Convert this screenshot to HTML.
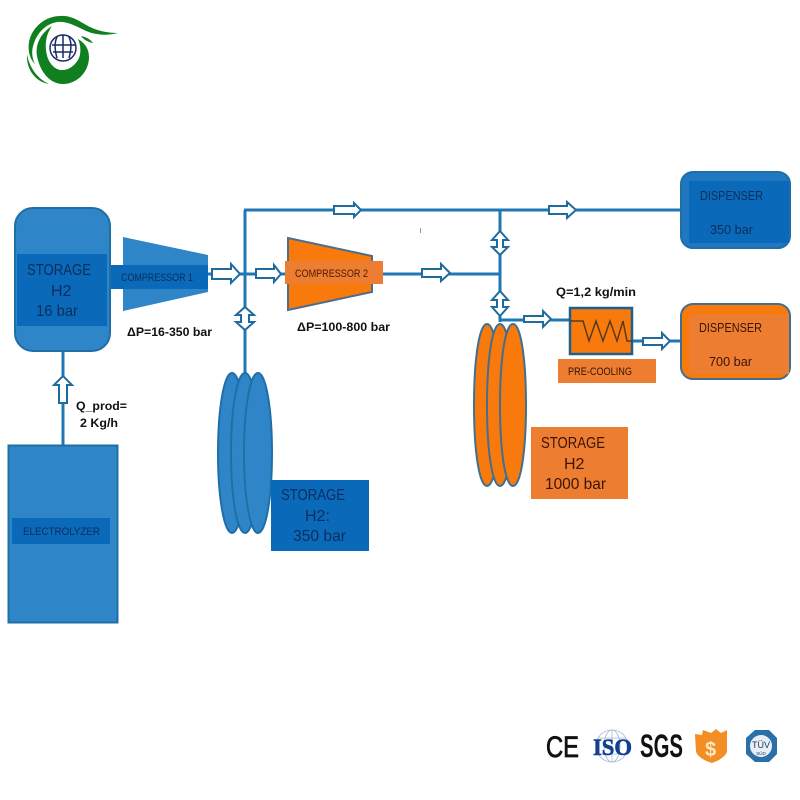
<!DOCTYPE html>
<html>
<head>
<meta charset="utf-8">
<style>
html,body{margin:0;padding:0;background:#fff}
svg{display:block}
text{font-family:"Liberation Sans",sans-serif}
</style>
</head>
<body>
<svg width="800" height="800" viewBox="0 0 800 800" xmlns="http://www.w3.org/2000/svg">
<rect width="800" height="800" fill="#fff"/>

<!-- Logo -->
<g fill="#0f7f1f">
  <path d="M118 33C106 36 94 35 84 30C74 25 66 21 57 22C46 24 38 32 34 43C31 51 32 58 35 64C29 58 27 48 30 38C35 24 48 16 60 16C72 15 80 22 90 27C98 31 108 33 118 33Z"/>
  <path d="M52 26C41 33 35 44 37 56C40 72 50 84 63 84C77 84 89 72 89 57C89 49 85 43 78 39C81 46 81 53 79 58C75 66 68 71 60 70C52 68 47 60 46 50C45 41 47 33 52 26Z"/>
  <path d="M27 54C29 66 36 78 49 84C36 82 26 70 27 54Z"/>
  <path d="M81 36C86 37 90 39 93 43C88 42 84 40 81 36Z"/>
</g>
<circle cx="63" cy="48" r="13" fill="#fff" stroke="#1a2a6c" stroke-width="1.5"/>
<path d="M52 45H75M53 52H73M63 35V58M57 37C54 43 55 51 57 58M69 37C72 43 71 51 69 58" fill="none" stroke="#1a2a6c" stroke-width="1.5"/>

<!-- Connectors -->
<g fill="none" stroke="#1f78b4" stroke-width="3">
  <path d="M63 352V445"/>
  <path d="M208 274H245"/>
  <path d="M245 210V375"/>
  <path d="M244 210H680"/>
  <path d="M245 274H287"/>
  <path d="M383 274H500"/>
  <path d="M500 210V322"/>
  <path d="M500 320H569"/>
  <path d="M632 341H680"/>
</g>

<!-- Storage 16 bar -->
<rect x="15" y="208" width="95" height="143" rx="18" fill="#2e86c8" stroke="#1f6fa6" stroke-width="2"/>
<rect x="17" y="254" width="90" height="72" fill="#0b69b9"/>
<text font-size="16" fill="#0a2f5c">
  <tspan x="27" y="275" textLength="64" lengthAdjust="spacingAndGlyphs">STORAGE</tspan>
  <tspan x="51" y="296">H2</tspan>
  <tspan x="36" y="316" textLength="42" lengthAdjust="spacingAndGlyphs">16 bar</tspan>
</text>

<!-- Compressor 1 -->
<polygon points="123,237 208,255 208,292 123,311" fill="#2e86c8"/>
<rect x="111" y="265" width="97" height="24" fill="#0b69b9"/>
<text x="121" y="281" font-size="11" fill="#0a2f5c" textLength="72" lengthAdjust="spacingAndGlyphs">COMPRESSOR 1</text>
<text x="127" y="336" font-size="12" font-weight="bold" fill="#111" textLength="85" lengthAdjust="spacingAndGlyphs">ΔP=16-350 bar</text>

<!-- Compressor 2 -->
<polygon points="288,238 372,256 372,292 288,310" fill="#f97a0c" stroke="#4e6c8c" stroke-width="2"/>
<rect x="285" y="261" width="98" height="23" fill="#ed7d31"/>
<text x="295" y="277" font-size="11" fill="#4a1c05" textLength="73" lengthAdjust="spacingAndGlyphs">COMPRESSOR 2</text>
<text x="297" y="331" font-size="12" font-weight="bold" fill="#111" textLength="93" lengthAdjust="spacingAndGlyphs">ΔP=100-800 bar</text>

<!-- Hollow arrows -->
<g fill="#fff" stroke="#1f6a9e" stroke-width="2">
  <path d="M212 269H231V264L240 274L231 283V279H212Z"/>
  <path d="M256 269H274V265L281 274L274 282V278H256Z"/>
  <path d="M334 206H354V203L361 210L354 217V214H334Z"/>
  <path d="M422 269H441V264L450 273L441 281V277H422Z"/>
  <path d="M549 206H567V202L576 210L567 218V214H549Z"/>
  <path d="M524 316H543V311L551 319L543 327V322H524Z"/>
  <path d="M643 338H662V333L670 341L662 349V345H643Z"/>
  <path d="M59 403V385H54L63 376L72 385H67V403Z"/>
  <path d="M245 307L254 315H249V322H254L245 330L236 322H241V315H236Z"/>
  <path d="M500 231L508 240H503V247H508L500 255L492 247H497V240H492Z"/>
  <path d="M500 291L508 300H503V307H508L500 316L492 307H497V300H492Z"/>
</g>

<!-- Blue storage coil -->
<g fill="#2e86c8" stroke="#1f6fa6" stroke-width="2">
  <path d="M232 373c8 0 14 36 14 80s-6 80-14 80s-14-36-14-80s6-80 14-80z"/>
  <path d="M245 373c8 0 14 36 14 80s-6 80-14 80s-14-36-14-80s6-80 14-80z"/>
  <path d="M258 373c8 0 14 36 14 80s-6 80-14 80s-14-36-14-80s6-80 14-80z"/>
</g>
<rect x="271" y="480" width="98" height="71" fill="#0b69b9"/>
<text font-size="16" fill="#0a2f5c">
  <tspan x="281" y="500" textLength="64" lengthAdjust="spacingAndGlyphs">STORAGE</tspan>
  <tspan x="305" y="521">H2:</tspan>
  <tspan x="293" y="541" textLength="53" lengthAdjust="spacingAndGlyphs">350 bar</tspan>
</text>

<!-- Orange storage coil -->
<g fill="#f97a0c" stroke="#3f6f92" stroke-width="2">
  <path d="M487 324c8 0 13 36 13 81s-5 81-13 81s-13-36-13-81s5-81 13-81z"/>
  <path d="M500 324c8 0 13 36 13 81s-5 81-13 81s-13-36-13-81s5-81 13-81z"/>
  <path d="M513 324c8 0 13 36 13 81s-5 81-13 81s-13-36-13-81s5-81 13-81z"/>
</g>
<rect x="531" y="427" width="97" height="72" fill="#ed7d31"/>
<text font-size="16" fill="#3a1503">
  <tspan x="541" y="448" textLength="64" lengthAdjust="spacingAndGlyphs">STORAGE</tspan>
  <tspan x="564" y="469">H2</tspan>
  <tspan x="545" y="489" textLength="61" lengthAdjust="spacingAndGlyphs">1000 bar</tspan>
</text>

<!-- Dispenser 350 -->
<rect x="681" y="172" width="109" height="76" rx="12" fill="#1f78c0" stroke="#1f6fa6" stroke-width="2"/>
<rect x="689" y="181" width="100" height="62" fill="#0b69b9"/>
<text x="700" y="200" font-size="12.5" fill="#0a2f5c" textLength="63" lengthAdjust="spacingAndGlyphs">DISPENSER</text>
<text x="710" y="234" font-size="12.5" fill="#0a2f5c" textLength="43" lengthAdjust="spacingAndGlyphs">350 bar</text>

<!-- Dispenser 700 -->
<rect x="681" y="304" width="109" height="75" rx="12" fill="#f97a0c" stroke="#3f6f92" stroke-width="2"/>
<rect x="689" y="314" width="100" height="60" fill="#ed7d31"/>
<text x="699" y="332" font-size="12.5" fill="#3a1503" textLength="63" lengthAdjust="spacingAndGlyphs">DISPENSER</text>
<text x="709" y="366" font-size="12.5" fill="#3a1503" textLength="43" lengthAdjust="spacingAndGlyphs">700 bar</text>

<!-- Pre-cooling -->
<text x="556" y="296" font-size="12" font-weight="bold" fill="#111" textLength="80" lengthAdjust="spacingAndGlyphs">Q=1,2 kg/min</text>
<rect x="570" y="308" width="62" height="46" fill="#f97a0c" stroke="#1f5f8c" stroke-width="2.5"/>
<path d="M570 321H583L589 341L596 321L603 341L610 321L617 341L623 321L627 341H632" fill="none" stroke="#5a3a1a" stroke-width="1.5"/>
<rect x="558" y="359" width="98" height="24" fill="#ed7d31"/>
<text x="568" y="375" font-size="11" fill="#3a1503" textLength="64" lengthAdjust="spacingAndGlyphs">PRE-COOLING</text>

<!-- Qprod -->
<text font-size="12" font-weight="bold" fill="#111">
  <tspan x="76" y="410" textLength="51" lengthAdjust="spacingAndGlyphs">Q_prod=</tspan>
  <tspan x="80" y="427" textLength="38" lengthAdjust="spacingAndGlyphs">2 Kg/h</tspan>
</text>

<!-- Electrolyzer -->
<rect x="8.5" y="445.5" width="109" height="177" fill="#2e86c8" stroke="#1f6fa6" stroke-width="2"/>
<rect x="12" y="518" width="98" height="26" fill="#0b69b9"/>
<text x="23" y="535" font-size="11" fill="#0a2f5c" textLength="77" lengthAdjust="spacingAndGlyphs">ELECTROLYZER</text>

<!-- Tick mark -->
<rect x="420" y="228" width="1" height="5" fill="#999"/>

<!-- Certifications -->
<text x="546" y="757" font-size="30" fill="#111" stroke="#111" stroke-width="0.8" textLength="33" lengthAdjust="spacingAndGlyphs">CE</text>
<g fill="none" stroke="#a9b8d6" stroke-width="0.8">
  <circle cx="612" cy="746" r="16"/>
  <ellipse cx="612" cy="746" rx="8" ry="16"/>
  <path d="M612 730V762M598 738H626M598 754H626"/>
</g>
<text x="593" y="755" font-size="23" font-weight="bold" fill="#12408f" stroke="#12408f" stroke-width="0.6" textLength="39" lengthAdjust="spacingAndGlyphs" style="font-family:'Liberation Serif',serif">ISO</text>
<text x="640" y="757" font-size="32" font-weight="bold" fill="#111" textLength="43" lengthAdjust="spacingAndGlyphs">SGS</text>
<path d="M695 734L702 735L703 730L711 733L716 729L721 733L727 730L727 752C725 757 718 761 712 763C705 761 698 757 696 752Z" fill="#f28e23"/>
<text x="705" y="756" font-size="20" font-weight="bold" fill="#fde9c2">$</text>
<polygon points="755,730 769,730 777,738 777,754 769,762 755,762 746,754 746,738" fill="#2a6fa8"/>
<circle cx="761" cy="746" r="11" fill="#e8eef4"/>
<text x="761" y="748" font-size="9" fill="#1b3f66" text-anchor="middle">TÜV</text>
<text x="761" y="755" font-size="4.5" fill="#1b3f66" text-anchor="middle">SÜD</text>
</svg>
</body>
</html>
